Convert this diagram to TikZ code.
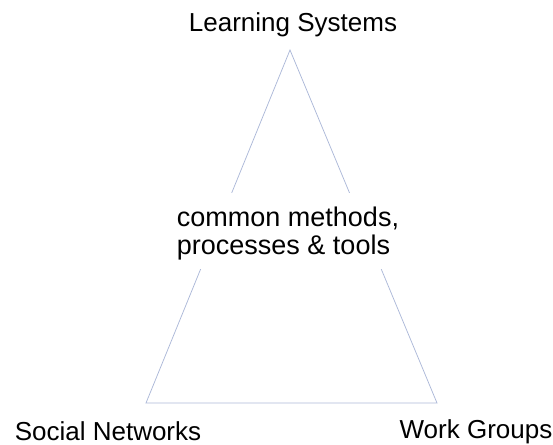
\documentclass[tikz,border=0pt]{standalone}
\usepackage{fontspec}
\setmainfont{Liberation Sans}
\usetikzlibrary{positioning}

\begin{document}
\begin{tikzpicture}[x = 1pt, y = -1pt,
                    side/.style = {draw = {rgb,255:red,172;green,184;blue,216}, line width = .75pt},
                    label/.style = {font = \fontsize{26}{29}\selectfont, inner sep = 0pt, anchor = base}
                   ]
     \useasboundingbox (0,0) rectangle (553,444);

     % corners of the triangle
     \coordinate (apex) at (290,50);
     \coordinate (lowleft) at (146,403);
     \coordinate (lowright) at (437,403);
     \draw[side] (apex) -- (lowleft) -- (lowright) -- cycle;

     % middle text, white box cuts the two sides
     \node[label, font = \fontsize{27}{28.5}\selectfont, fill = white, align = left, anchor = center] (hub) at (288,231)
          {\rule{0pt}{33pt}common methods,\\processes \& tools\rule[-14pt]{0pt}{14pt}};

     \node[label] (learn) at (293,32) {Learning Systems};
     \node[label] (social) at (108,440) {Social Networks};
     \node[label] (work) at (476,438) {Work Groups};
\end{tikzpicture}
\end{document}
